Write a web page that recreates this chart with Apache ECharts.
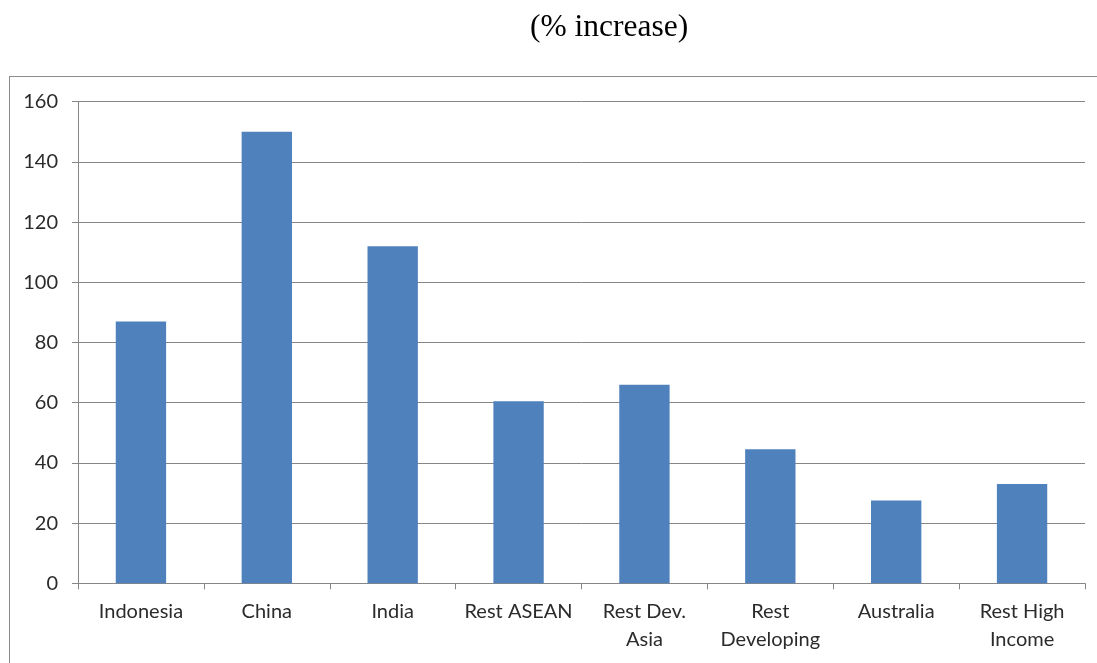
<!DOCTYPE html>
<html>
<head>
<meta charset="utf-8">
<script src="https://cdn.jsdelivr.net/npm/echarts@6/dist/echarts.min.js"></script>
<style>
  html, body { margin: 0; padding: 0; background: #fff; }
  #chart { width: 1097px; height: 663px; }
  #frame { position: absolute; left: 9px; top: 76px; width: 1100px; height: 600px;
           border-left: 1px solid #8c8c8c; border-top: 1px solid #8c8c8c; pointer-events: none; }
</style>
</head>
<body>
<div id="chart"></div>
<div id="frame"></div>
<script>
// Regions and their percentage increase
const categories = ['Indonesia', 'China', 'India', 'Rest ASEAN', 'Rest Dev.\nAsia',
                    'Rest\nDeveloping', 'Australia', 'Rest High\nIncome'];
const increase = [87, 150, 112, 60.5, 66, 44.5, 27.5, 33];
const yTicks = { min: 0, max: 160, interval: 20 };
const titleText = '(% increase)';

const chart = echarts.init(document.getElementById('chart'), null, { renderer: 'canvas' });
const labelFont = 'Lato, "Open Sans", sans-serif';

chart.setOption({
  animation: false,
  title: {
    text: titleText,
    left: 525, top: 7,
    textStyle: { fontFamily: '"Liberation Serif", "DejaVu Serif", serif', fontWeight: 'normal',
                 fontSize: 31.5, color: '#000' }
  },
  grid: { left: 78, right: 12, top: 101.7, bottom: 79.7, containLabel: false },
  xAxis: {
    type: 'category',
    data: categories,
    boundaryGap: true,
    axisLine: { lineStyle: { color: '#868686', width: 1 } },
    axisTick: { show: true, alignWithLabel: false, length: 6, lineStyle: { color: '#868686' } },
    axisLabel: { interval: 0, margin: 14, fontFamily: labelFont, fontSize: 20, lineHeight: 28,
                 color: '#2b2b2b' }
  },
  yAxis: {
    type: 'value',
    min: yTicks.min, max: yTicks.max, interval: yTicks.interval,
    axisLine: { show: true, lineStyle: { color: '#868686', width: 1 } },
    axisTick: { show: true, length: 6, lineStyle: { color: '#868686' } },
    splitLine: { show: true, lineStyle: { color: '#868686', width: 1 } },
    axisLabel: { margin: 20, fontFamily: labelFont, fontSize: 20, color: '#2b2b2b' }
  },
  series: [{
    type: 'bar',
    data: increase,
    barWidth: '40%',
    itemStyle: { color: '#4f81bd' }
  }]
});
</script>
</body>
</html>
